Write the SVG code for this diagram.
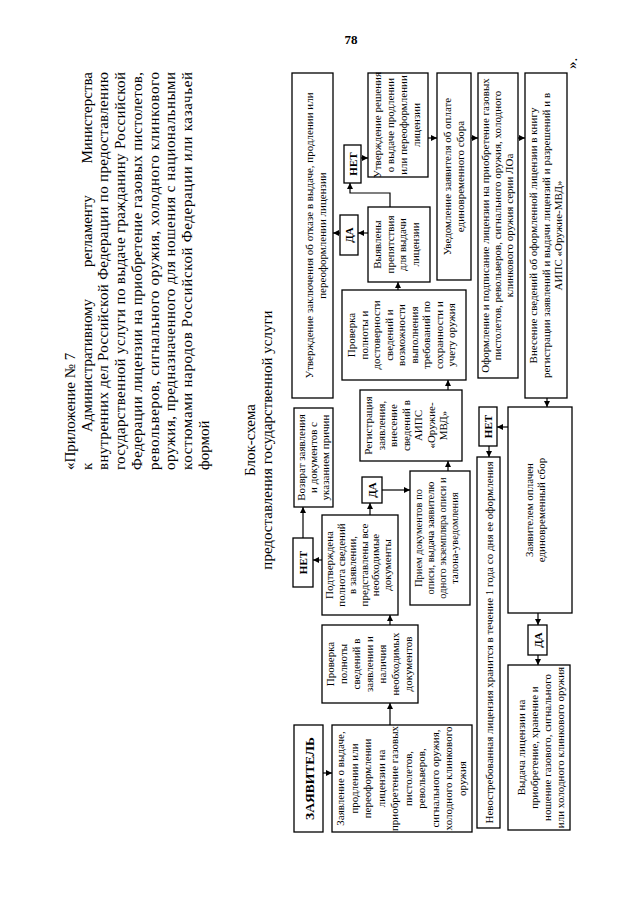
<svg xmlns="http://www.w3.org/2000/svg" width="640" height="905" viewBox="0 0 640 905">
<defs>
<style>
.bx{fill:#fff;stroke:#000;stroke-width:1.3}
.t{font-family:"Liberation Serif","Times New Roman",serif;font-size:11px;text-anchor:middle;fill:#000}
.s{font-size:10.5px}
.k{font-weight:bold}
.z{font-size:13.5px;font-weight:bold}
.h{font-family:"Liberation Serif","Times New Roman",serif;font-size:15px;fill:#000}
.hc{text-anchor:middle}
.c{stroke:#000;stroke-width:1.2;fill:none;marker-end:url(#ah)}
</style>
<marker id="ah" markerUnits="userSpaceOnUse" markerWidth="6" markerHeight="6" refX="6" refY="3" orient="auto">
<path d="M0,0 L6,3 L0,6 z" fill="#000"/>
</marker>
</defs>
<rect width="640" height="905" fill="#fff"/>
<text class="h hc" x="351" y="44" style="font-size:13px;font-weight:bold">78</text>
<g transform="translate(0,905) rotate(-90)">
<g id="header">
<text class="h" x="435" y="75">«Приложение № 7</text>
<text class="h" x="435" y="91.7">к</text>
<text class="h" x="473" y="91.7">Административному</text>
<text class="h" x="638" y="91.7">регламенту</text>
<text class="h" x="833" y="91.7" text-anchor="end">Министерства</text>
<text class="h" x="435" y="108.4" textLength="398" lengthAdjust="spacing">внутренних дел Российской Федерации по предоставлению</text>
<text class="h" x="435" y="125.1" textLength="398" lengthAdjust="spacing">государственной услуги по выдаче гражданину Российской</text>
<text class="h" x="435" y="141.8" textLength="398" lengthAdjust="spacing">Федерации лицензии на приобретение газовых пистолетов,</text>
<text class="h" x="435" y="158.5" textLength="398" lengthAdjust="spacing">револьверов, сигнального оружия, холодного клинкового</text>
<text class="h" x="435" y="175.2" textLength="398" lengthAdjust="spacing">оружия, предназначенного для ношения с национальными</text>
<text class="h" x="435" y="191.9" textLength="398" lengthAdjust="spacing">костюмами народов Российской Федерации или казачьей</text>
<text class="h" x="435" y="208.6">формой</text>
<text class="h hc" x="465" y="255">Блок-схема</text>
<text class="h hc" x="465" y="272">предоставления государственной услуги</text>
<text class="h" x="836" y="577">».</text>
</g>
<g id="zayavitel"><rect class="bx" x="73" y="294" width="107" height="29"/><text class="t z" x="126.5" y="313.5">ЗАЯВИТЕЛЬ</text></g>
<g id="zayavlenie"><rect class="bx" x="73" y="332" width="107" height="140"/>
<text class="t"><tspan x="126.5" y="344">Заявление о выдаче,</tspan><tspan x="126.5" y="357.5">продлении или</tspan><tspan x="126.5" y="371">переоформлении</tspan><tspan x="126.5" y="384.5">лицензии на</tspan><tspan x="126.5" y="398">приобретение газовых</tspan><tspan x="126.5" y="411.5">пистолетов,</tspan><tspan x="126.5" y="425">револьверов,</tspan><tspan x="126.5" y="438.5">сигнального оружия,</tspan><tspan x="126.5" y="452">холодного клинкового</tspan><tspan x="126.5" y="465.5">оружия</tspan></text></g>
<g id="proverka1"><rect class="bx" x="202" y="322" width="78" height="96"/>
<text class="t"><tspan x="241" y="333.5">Проверка</tspan><tspan x="241" y="346.5">полноты</tspan><tspan x="241" y="359.5">сведений в</tspan><tspan x="241" y="372.5">заявлении и</tspan><tspan x="241" y="385.5">наличия</tspan><tspan x="241" y="398.5">необходимых</tspan><tspan x="241" y="411.5">документов</tspan></text></g>
<g id="podtverzhdena"><rect class="bx" x="290" y="322" width="100" height="76"/>
<text class="t"><tspan x="340" y="333">Подтверждена</tspan><tspan x="340" y="344.5">полнота сведений</tspan><tspan x="340" y="356">в заявлении,</tspan><tspan x="340" y="367.5">представлены все</tspan><tspan x="340" y="379">необходимые</tspan><tspan x="340" y="390.5">документы</tspan></text></g>
<g id="net1"><rect class="bx" x="318" y="293" width="49" height="20"/><text class="t k" x="342.5" y="307">НЕТ</text></g>
<g id="vozvrat"><rect class="bx" x="398" y="294" width="99" height="39"/>
<text class="t"><tspan x="447.5" y="305">Возврат заявления</tspan><tspan x="447.5" y="317">и документов с</tspan><tspan x="447.5" y="329">указанием причин</tspan></text></g>
<g id="da1"><rect class="bx" x="402" y="362" width="26" height="20"/><text class="t k" x="415" y="376">ДА</text></g>
<g id="priem"><rect class="bx" x="300" y="410" width="134" height="60"/>
<text class="t s"><tspan x="367" y="422">Прием документов по</tspan><tspan x="367" y="434">описи, выдача заявителю</tspan><tspan x="367" y="446">одного экземпляра описи и</tspan><tspan x="367" y="458">талона-уведомления</tspan></text></g>
<g id="registraciya"><rect class="bx" x="444" y="360" width="71" height="102"/>
<text class="t"><tspan x="479.5" y="372">Регистрация</tspan><tspan x="479.5" y="384.5">заявления,</tspan><tspan x="479.5" y="397">внесение</tspan><tspan x="479.5" y="409.5">сведений в</tspan><tspan x="479.5" y="422">АИПС</tspan><tspan x="479.5" y="434.5">«Оружие-</tspan><tspan x="479.5" y="447">МВД»</tspan></text></g>
<g id="proverka2"><rect class="bx" x="525" y="342" width="90" height="124"/>
<text class="t"><tspan x="570" y="355">Проверка</tspan><tspan x="570" y="367.5">полноты и</tspan><tspan x="570" y="380">достоверности</tspan><tspan x="570" y="392.5">сведений и</tspan><tspan x="570" y="405">возможности</tspan><tspan x="570" y="417.5">выполнения</tspan><tspan x="570" y="430">требований по</tspan><tspan x="570" y="442.5">сохранности и</tspan><tspan x="570" y="455">учету оружия</tspan></text></g>
<g id="vyyavleny"><rect class="bx" x="623" y="368" width="75" height="62"/>
<text class="t"><tspan x="660.5" y="381">Выявлены</tspan><tspan x="660.5" y="393.5">препятствия</tspan><tspan x="660.5" y="406">для выдачи</tspan><tspan x="660.5" y="418.5">лицензии</tspan></text></g>
<g id="da2"><rect class="bx" x="650" y="340" width="40" height="18"/><text class="t k" x="670" y="353">ДА</text></g>
<g id="net2"><rect class="bx" x="722" y="344" width="38" height="17"/><text class="t k" x="741" y="357">НЕТ</text></g>
<g id="utv-zakl"><rect class="bx" x="507" y="292" width="325" height="41"/>
<text class="t"><tspan x="669.5" y="313">Утверждение заключения об отказе в выдаче, продлении или</tspan><tspan x="669.5" y="326">переоформлении лицензии</tspan></text></g>
<g id="utv-resh"><rect class="bx" x="728" y="368" width="104" height="60"/>
<text class="t"><tspan x="780" y="381">Утверждение решения</tspan><tspan x="780" y="394">о выдаче продлении</tspan><tspan x="780" y="407">или переоформлении</tspan><tspan x="780" y="420">лицензии</tspan></text></g>
<g id="uvedomlenie"><rect class="bx" x="625" y="437" width="207" height="34"/>
<text class="t"><tspan x="728.5" y="451">Уведомление заявителя об оплате</tspan><tspan x="728.5" y="464">единовременного сбора</tspan></text></g>
<g id="oformlenie"><rect class="bx" x="527" y="478" width="305" height="40"/>
<text class="t"><tspan x="679.5" y="489">Оформление и подписание лицензии на приобретение газовых</tspan><tspan x="679.5" y="501">пистолетов, револьверов, сигнального оружия, холодного</tspan><tspan x="679.5" y="513">клинкового оружия серии ЛОа</tspan></text></g>
<g id="vnesenie"><rect class="bx" x="507" y="525" width="325" height="42"/>
<text class="t"><tspan x="669.5" y="537">Внесение сведений об оформленной лицензии в книгу</tspan><tspan x="669.5" y="549.5">регистрации заявлений и выдачи лицензий и разрешений и в</tspan><tspan x="669.5" y="562">АИПС «Оружие-МВД»</tspan></text></g>
<g id="oplachen"><rect class="bx" x="292" y="508" width="206" height="64"/>
<text class="t"><tspan x="395" y="533">Заявителем оплачен</tspan><tspan x="395" y="545">единовременный сбор</tspan></text></g>
<g id="net3"><rect class="bx" x="459" y="479" width="39" height="18"/><text class="t k" x="478.5" y="492">НЕТ</text></g>
<g id="nevostrebovannaya"><rect class="bx" x="77" y="477" width="371" height="23"/>
<text class="t" x="262.5" y="492.5" textLength="362" lengthAdjust="spacing">Невостребованная лицензия хранится в течение 1 года со дня ее оформления</text></g>
<g id="da3"><rect class="bx" x="250" y="528" width="30" height="19"/><text class="t k" x="265" y="542">ДА</text></g>
<g id="vydacha"><rect class="bx" x="75" y="508" width="165" height="62"/>
<text class="t"><tspan x="157.5" y="525">Выдача лицензии на</tspan><tspan x="157.5" y="538">приобретение, хранение и</tspan><tspan x="157.5" y="551">ношение газового, сигнального</tspan><tspan x="157.5" y="564">или холодного клинкового оружия</tspan></text></g>
<g id="connectors">
<path class="c" d="M132,323 L132,332"/>
<path class="c" d="M180,390 L202,390"/>
<path class="c" d="M280,390 L290,390"/>
<path class="c" d="M345,322 L345,313"/>
<path class="c" d="M367,303 L398,303"/>
<path class="c" d="M390,370 L402,370"/>
<path class="c" d="M415,382 L415,410"/>
<path class="c" d="M434,448 L444,448"/>
<path class="c" d="M515,448 L525,448"/>
<path class="c" d="M615,398 L623,398"/>
<path class="c" d="M672,368 L672,358"/>
<path class="c" d="M672,340 L672,333"/>
<path class="c" d="M698,390 L712,390 L712,350 L722,350"/>
<path class="c" d="M747,361 L747,368"/>
<path class="c" d="M767,428 L767,437"/>
<path class="c" d="M767,471 L767,478"/>
<path class="c" d="M767,518 L767,525"/>
<path class="c" d="M507,547 L498,547"/>
<path class="c" d="M478,508 L478,497"/>
<path class="c" d="M459,489 L448,489"/>
<path class="c" d="M292,538 L280,538"/>
<path class="c" d="M250,538 L240,538"/>
</g>
</g>
</svg>
